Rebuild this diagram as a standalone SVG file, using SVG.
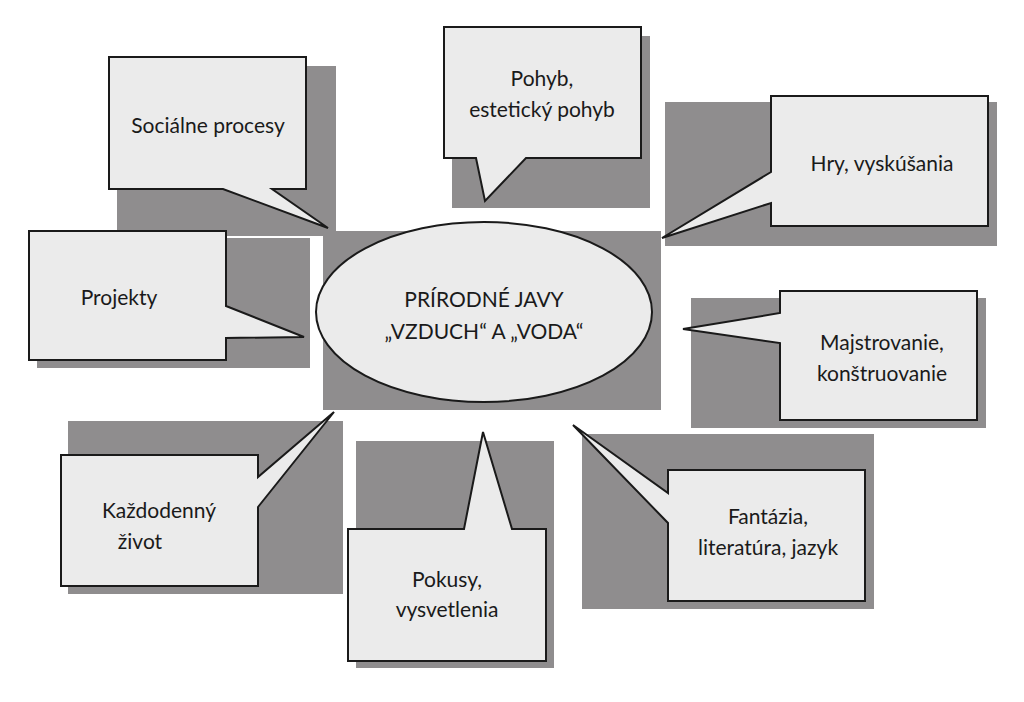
<svg xmlns="http://www.w3.org/2000/svg" width="1024" height="702" viewBox="0 0 1024 702">
<style>
.sh{fill:#8f8d8e}
.bx{fill:#ebebeb;stroke:#1a1a1a;stroke-width:2;stroke-linejoin:miter}
text{font-family:Lato,"Liberation Sans",sans-serif;font-size:21px;fill:#1a1a1a;text-anchor:middle}
</style>
<rect width="1024" height="702" fill="#fff"/>
<g id="shadows">
<rect class="sh" x="117" y="66" width="219" height="170"/>
<rect class="sh" x="452" y="36" width="198" height="172"/>
<rect class="sh" x="665" y="102" width="332" height="144"/>
<rect class="sh" x="37" y="238" width="273" height="130"/>
<rect class="sh" x="323" y="231" width="338" height="179"/>
<rect class="sh" x="691" y="298" width="295" height="130"/>
<rect class="sh" x="68" y="421" width="275" height="173"/>
<rect class="sh" x="356" y="441" width="198" height="227"/>
<rect class="sh" x="582" y="434" width="292" height="175"/>
</g>
<g id="center">
<ellipse class="bx" cx="484" cy="312" rx="168" ry="90"/>
<text x="484" y="307">PRÍRODNÉ JAVY</text>
<text x="484" y="339">„VZDUCH“ A „VODA“</text>
</g>
<g id="n1"><path class="bx" d="M109,57H306V189H272L328,228L223,189H109Z"/><text x="208" y="133">Sociálne procesy</text></g>
<g id="n2"><path class="bx" d="M444,27H641V158H526L485,201L476,158H444Z"/><text x="542" y="86">Pohyb,</text><text x="542" y="117">estetický pohyb</text></g>
<g id="n3"><path class="bx" d="M771,96H988V226H771V203L662,238L771,172Z"/><text x="882" y="171">Hry, vyskúšania</text></g>
<g id="n4"><path class="bx" d="M29,231H226V306L304,337L226,338V360H29Z"/><text x="119" y="305">Projekty</text></g>
<g id="n5"><path class="bx" d="M780,291H977V420H780V343L683,329L780,313Z"/><text x="882" y="350">Majstrovanie,</text><text x="882" y="381">konštruovanie</text></g>
<g id="n6"><path class="bx" d="M61,455H258V477L334,412L258,507V586H61Z"/><text x="159" y="518">Každodenný</text><text x="140" y="549">život</text></g>
<g id="n7"><path class="bx" d="M348,529H464L483,432L512,529H546V661H348Z"/><text x="447" y="587">Pokusy,</text><text x="447" y="617">vysvetlenia</text></g>
<g id="n8"><path class="bx" d="M668,470H865V601H668V523L573,425L668,493Z"/><text x="768" y="524">Fantázia,</text><text x="768" y="555">literatúra, jazyk</text></g>
<g id="connectors"></g>
</svg>
